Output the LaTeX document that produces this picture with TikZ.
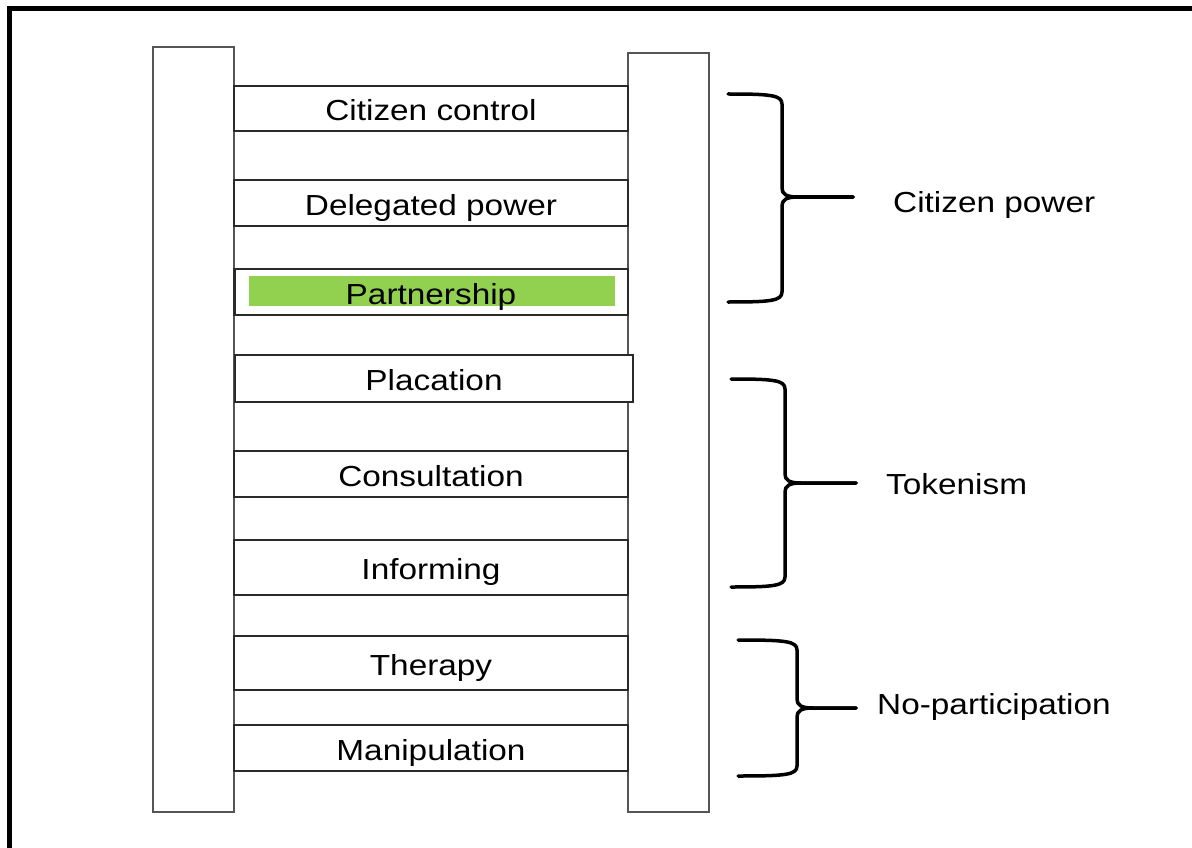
\documentclass[tikz,border=0pt]{standalone}
\usepackage{graphicx}
\usepackage{fontspec}
\setmainfont{Liberation Sans}
\newcommand\sx[1]{\scalebox{1.15}[1]{#1}}
\definecolor{railgray}{HTML}{555555}
\definecolor{runggray}{HTML}{2A2A2A}
\definecolor{pgreen}{HTML}{92D050}
\tikzset{
  rail/.style={draw=railgray, line width=2pt, fill=white, inner sep=0pt, minimum width=81pt},
  rung/.style={draw=runggray, line width=1.5pt, fill=white, inner sep=0pt, minimum width=394pt,
    font=\fontsize{29}{34}\selectfont, text height=24pt, text depth=0pt},
  grp/.style={font=\fontsize{29}{34}\selectfont, inner sep=0pt, anchor=base west},
  brace/.style={draw=black, line width=3.5pt, line cap=round, line join=round},
}
\newcommand\bracepath[6]{% x0, xv, ytop, ymid, ybot, tipname
  \draw[brace] (#1,#3) .. controls (#2-12,#3) and (#2,#3+1) .. (#2,#3+10)
    -- (#2,#4-9) .. controls (#2,#4-3) and (#2+4,#4) .. (#2+16,#4) -- (#6);
  \draw[brace] (#6) -- (#2+16,#4) .. controls (#2+4,#4) and (#2,#4+3) .. (#2,#4+9)
    -- (#2,#5-10) .. controls (#2,#5-1) and (#2-12,#5) .. (#1,#5);
}
\begin{document}
\begin{tikzpicture}[x=1pt,y=-1pt]
\useasboundingbox (0,0) rectangle (1192,848);
% frame
\draw[line width=5pt, line join=miter] (9.5,848) -- (9.5,8.5) -- (1192,8.5);
% rails
\node[rail, minimum height=765pt] (lrail) at (193.5,429.5) {};
\node[rail, minimum height=759pt] (rrail) at (668.5,432.5) {};
% rungs
\node[rung, minimum height=45pt] (cc) at (431,108.5) {\sx{Citizen control}};
\node[rung, minimum height=46pt] (dp) at (431,203) {\sx{Delegated power}};
\node[rung, minimum height=46pt] (pa) at (431,292) {};
\fill[pgreen] (249,276) rectangle (615,306);
\node[font=\fontsize{29}{34}\selectfont, text height=24pt, text depth=0pt, inner sep=0pt] (pat) at (pa.center) {\sx{Partnership}};
\draw[runggray, line width=2.5pt] ([xshift=1pt]pa.north west) -- ([xshift=1pt]pa.south west);
\node[rung, minimum height=47pt, minimum width=398pt] (pl) at (434,378.5) {\sx{Placation}};
\node[rung, minimum height=46pt] (co) at (431,474) {\sx{Consultation}};
\node[rung, minimum height=55pt] (in) at (431,567.5) {\sx{Informing}};
\node[rung, minimum height=54pt] (th) at (431,663) {\sx{Therapy}};
\node[rung, minimum height=46pt] (ma) at (431,748) {\sx{Manipulation}};
% group labels
\node[grp] (gcp) at (893,212) {\sx{Citizen power}};
\node[grp] (gtk) at (886,494) {\sx{Tokenism}};
\node[grp] (gnp) at (877,714) {\sx{No-participation}};
% brace tips
\coordinate (t1) at (853,197);
\coordinate (t2) at (856,483);
\coordinate (t3) at (856,708);
\bracepath{728}{782}{94}{197}{302}{t1}
\bracepath{731}{785}{379}{483}{587}{t2}
\bracepath{738}{797}{640}{708}{776}{t3}
\end{tikzpicture}
\end{document}
